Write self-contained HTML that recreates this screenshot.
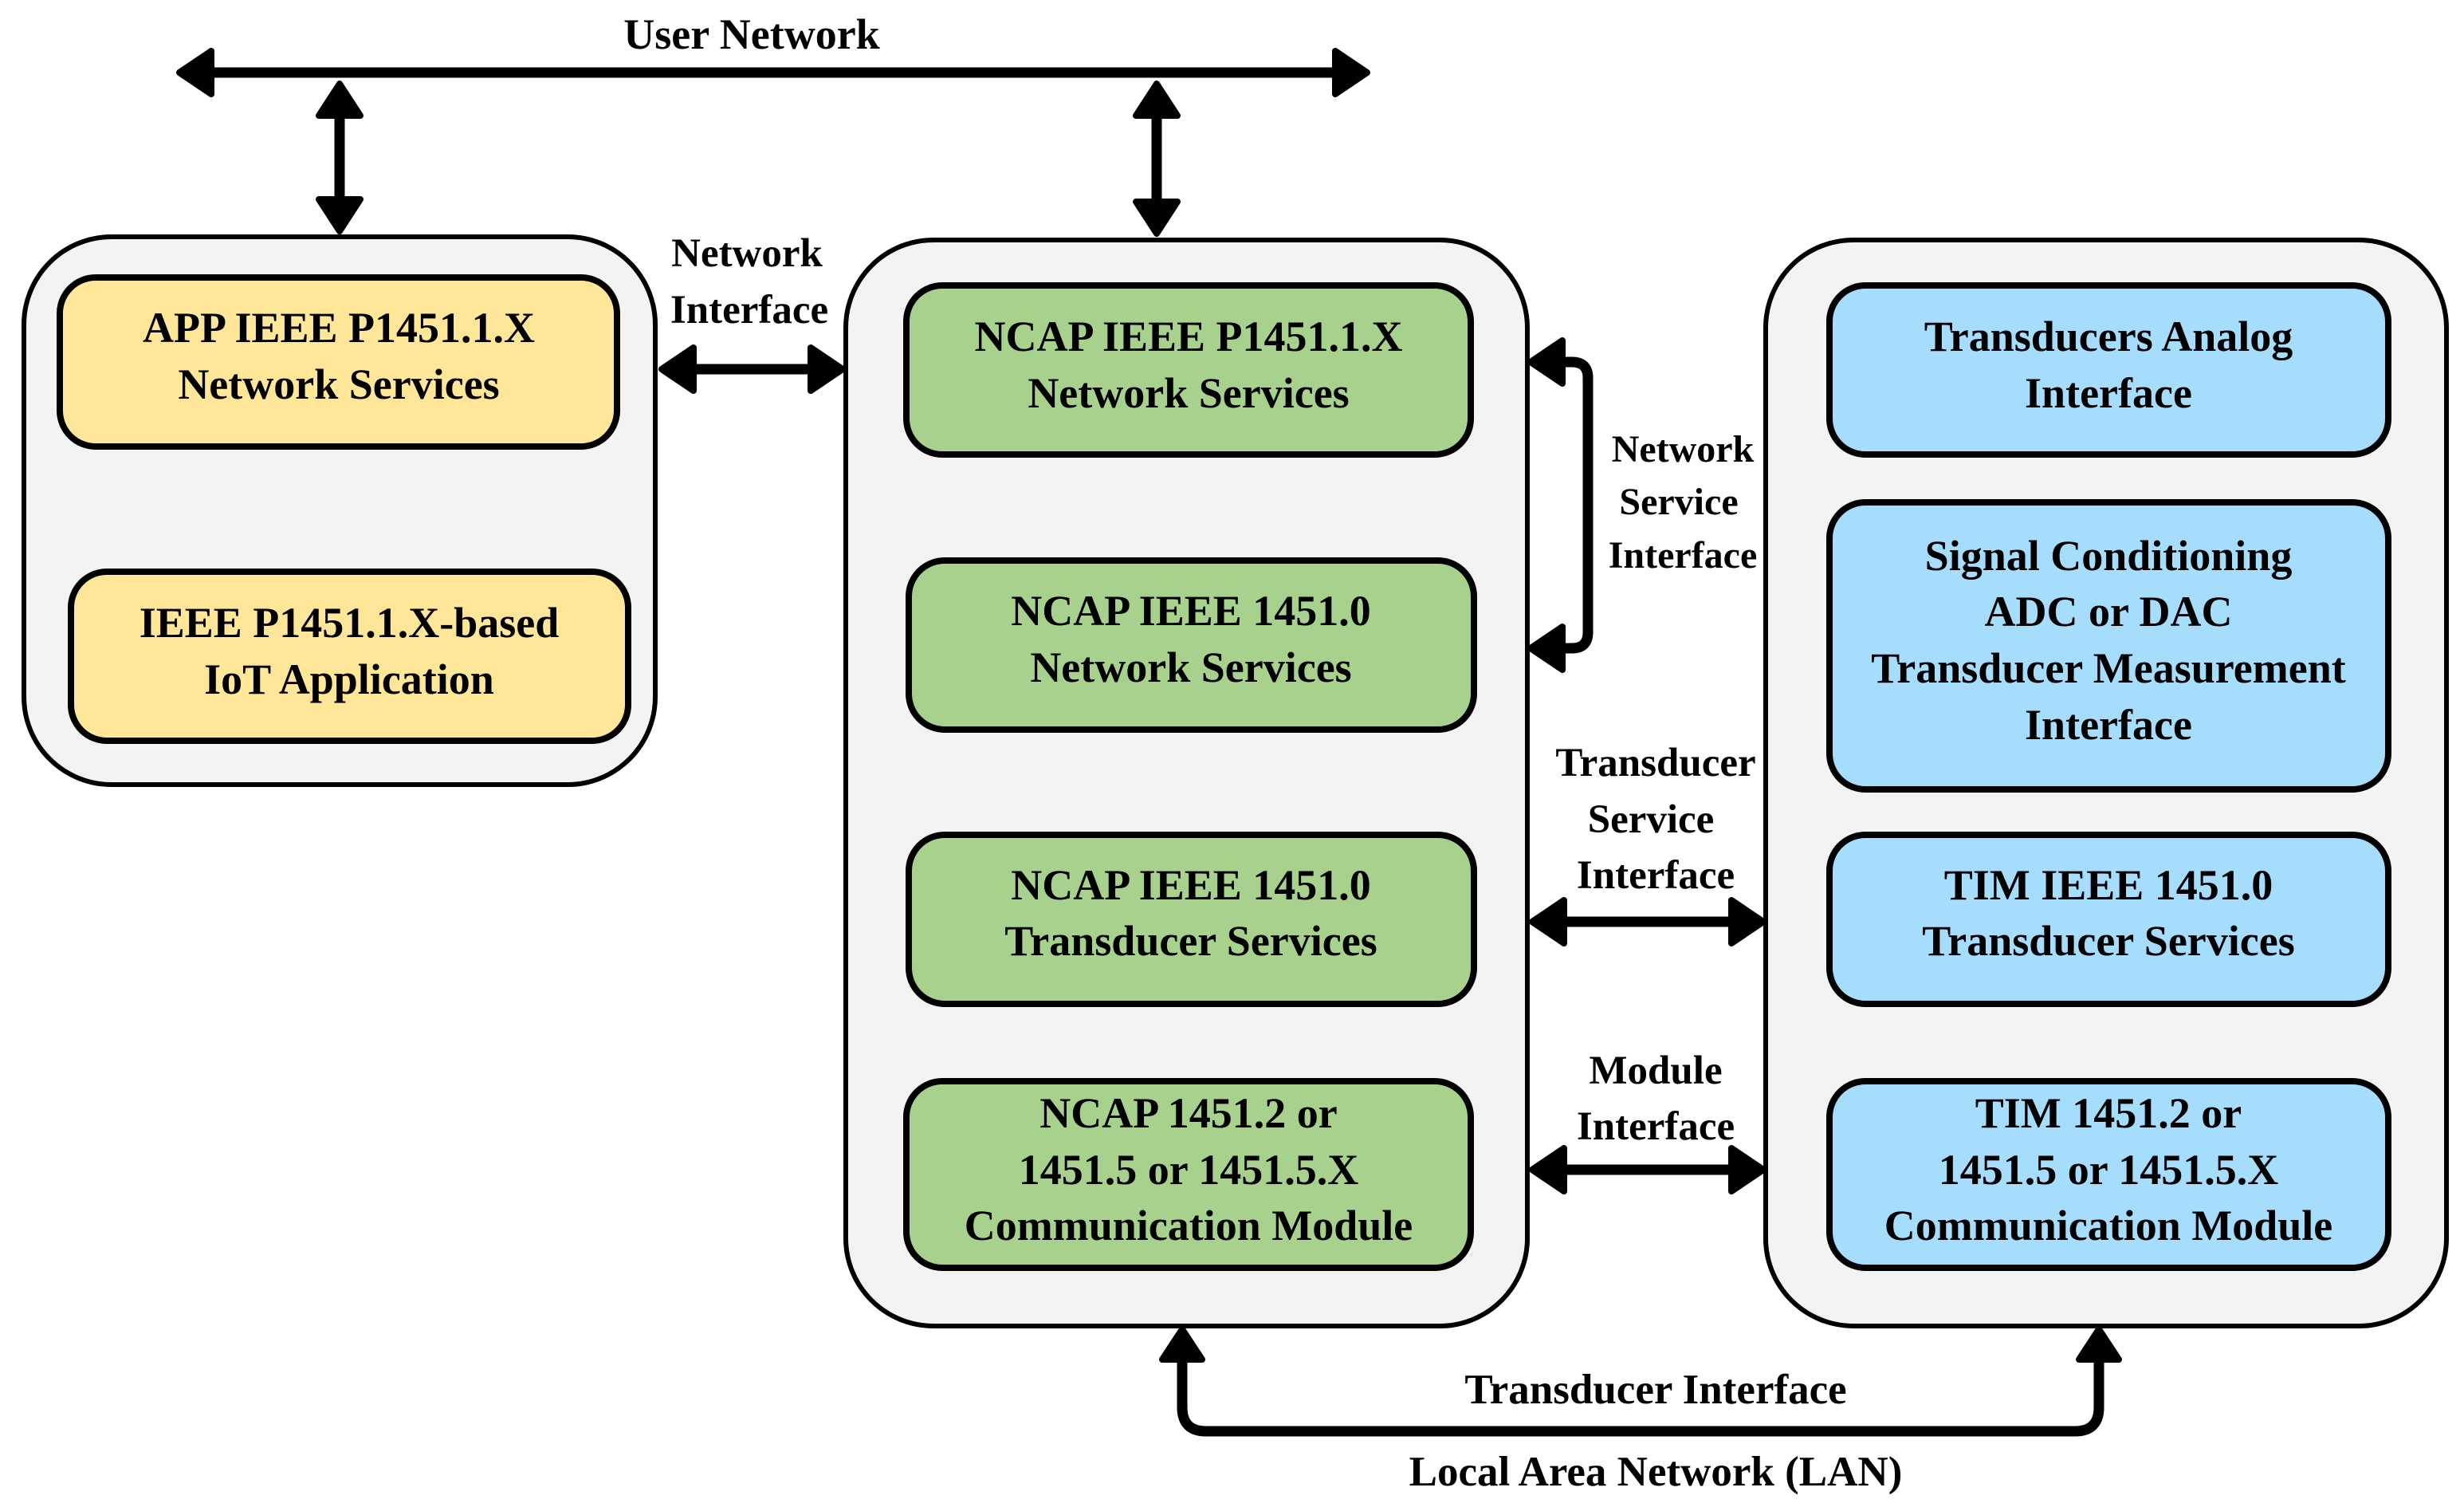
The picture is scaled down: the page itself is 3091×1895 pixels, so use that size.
<!DOCTYPE html>
<html><head><meta charset="utf-8"><style>
html,body{margin:0;padding:0;background:#fff}
svg{display:block}
text{font-family:"Liberation Serif",serif;font-weight:bold;fill:#000;text-anchor:middle}
</style></head><body>
<svg width="3091" height="1895" viewBox="0 0 3091 1895" xmlns="http://www.w3.org/2000/svg">
<g font-size="54">
<rect x="30" y="297" width="792" height="687" rx="110" fill="#f3f3f3" stroke="#000" stroke-width="6"/>
<rect x="1061" y="301" width="855" height="1362" rx="110" fill="#f3f3f3" stroke="#000" stroke-width="6"/>
<rect x="2215" y="301" width="854" height="1362" rx="110" fill="#f3f3f3" stroke="#000" stroke-width="6"/>

<rect x="75" y="348" width="699" height="212" rx="45" fill="#ffe699" stroke="#000" stroke-width="8"/>
<rect x="89" y="717" width="699" height="212" rx="45" fill="#ffe699" stroke="#000" stroke-width="8"/>
<text x="425" y="429">APP IEEE P1451.1.X</text>
<text x="425" y="500">Network Services</text>
<text x="438" y="799">IEEE P1451.1.X-based</text>
<text x="438" y="870">IoT Application</text>

<rect x="1137" y="358" width="708" height="212" rx="45" fill="#a9d18e" stroke="#000" stroke-width="8"/>
<rect x="1140" y="703" width="709" height="212" rx="45" fill="#a9d18e" stroke="#000" stroke-width="8"/>
<rect x="1140" y="1047" width="709" height="212" rx="45" fill="#a9d18e" stroke="#000" stroke-width="8"/>
<rect x="1137" y="1356" width="708" height="234" rx="45" fill="#a9d18e" stroke="#000" stroke-width="8"/>
<text x="1491" y="440">NCAP IEEE P1451.1.X</text>
<text x="1491" y="511">Network Services</text>
<text x="1494" y="784">NCAP IEEE 1451.0</text>
<text x="1494" y="855">Network Services</text>
<text x="1494" y="1128">NCAP IEEE 1451.0</text>
<text x="1494" y="1198">Transducer Services</text>
<text x="1491" y="1414">NCAP 1451.2 or</text>
<text x="1491" y="1485">1451.5 or 1451.5.X</text>
<text x="1491" y="1555">Communication Module</text>

<rect x="2295" y="358" width="701" height="212" rx="45" fill="#a6dcfc" stroke="#000" stroke-width="8"/>
<rect x="2295" y="630" width="701" height="360" rx="45" fill="#a6dcfc" stroke="#000" stroke-width="8"/>
<rect x="2295" y="1047" width="701" height="212" rx="45" fill="#a6dcfc" stroke="#000" stroke-width="8"/>
<rect x="2295" y="1356" width="701" height="234" rx="45" fill="#a6dcfc" stroke="#000" stroke-width="8"/>
<text x="2645" y="440">Transducers Analog</text>
<text x="2645" y="511">Interface</text>
<text x="2645" y="715">Signal Conditioning</text>
<text x="2645" y="785">ADC or DAC</text>
<text x="2645" y="856">Transducer Measurement</text>
<text x="2645" y="927">Interface</text>
<text x="2645" y="1128">TIM IEEE 1451.0</text>
<text x="2645" y="1198">Transducer Services</text>
<text x="2645" y="1414">TIM 1451.2 or</text>
<text x="2645" y="1485">1451.5 or 1451.5.X</text>
<text x="2645" y="1555">Communication Module</text>

<text x="943" y="61">User Network</text>
<text x="937" y="334" font-size="51">Network</text>
<text x="940" y="405" font-size="51">Interface</text>
<text x="2111" y="579" font-size="48">Network</text>
<text x="2106" y="645" font-size="48">Service</text>
<text x="2111" y="712" font-size="48">Interface</text>
<text x="2077" y="973" font-size="51">Transducer</text>
<text x="2071" y="1044" font-size="51">Service</text>
<text x="2077" y="1114" font-size="51">Interface</text>
<text x="2077" y="1359" font-size="51">Module</text>
<text x="2077" y="1429" font-size="51">Interface</text>
<text x="2077" y="1760" font-size="53">Transducer Interface</text>
<text x="2077" y="1863" font-size="53">Local Area Network (LAN)</text>
</g>

<g stroke="#000" stroke-width="13" fill="none" stroke-linejoin="round">
<line x1="250" y1="91" x2="1690" y2="91"/>
<line x1="426" y1="140" x2="426" y2="250"/>
<line x1="1451" y1="140" x2="1451" y2="255"/>
<line x1="865" y1="463" x2="1025" y2="463"/>
<line x1="1960" y1="1156" x2="2180" y2="1156"/>
<line x1="1960" y1="1467" x2="2180" y2="1467"/>
<path d="M1955 454 H1972 Q1992 454 1992 474 V793 Q1992 813 1972 813 H1955"/>
<path d="M1483 1700 V1765 Q1483 1795 1513 1795 H2603 Q2633 1795 2633 1765 V1700"/>
</g>
<g fill="#000" stroke="#000" stroke-width="8" stroke-linejoin="round">
<polygon points="225,91 265,64 265,118"/>
<polygon points="1715,91 1675,64 1675,118"/>
<polygon points="426,105 400,145 452,145"/>
<polygon points="426,290 400,250 452,250"/>
<polygon points="1451,105 1425,145 1477,145"/>
<polygon points="1451,293 1425,253 1477,253"/>
<polygon points="830,463 870,436 870,490"/>
<polygon points="1057,463 1017,436 1017,490"/>
<polygon points="1920,454 1960,427 1960,481"/>
<polygon points="1920,813 1960,786 1960,840"/>
<polygon points="1922,1156 1962,1129 1962,1183"/>
<polygon points="2212,1156 2172,1129 2172,1183"/>
<polygon points="1922,1467 1962,1440 1962,1494"/>
<polygon points="2212,1467 2172,1440 2172,1494"/>
<polygon points="1483,1667 1458,1705 1508,1705"/>
<polygon points="2633,1667 2608,1705 2658,1705"/>
</g>
</svg>
</body></html>
